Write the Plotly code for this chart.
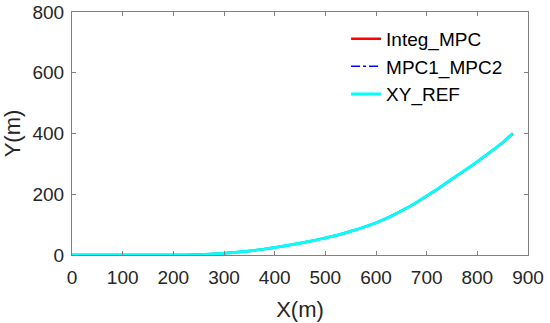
import plotly.graph_objects as go

# Trajectory data
x_vals = [0, 50, 100, 150, 200, 225, 250, 275, 300, 325, 350, 375, 400, 425, 450, 475, 500,
          525, 550, 575, 600, 625, 650, 675, 700, 725, 750, 775, 800, 825, 850, 870]
y_ref = [0, 0, 0, 0, 0, 0.3, 1, 3, 5.5, 9, 13, 18.5, 25, 31.5, 39, 47, 56,
         66, 78, 91, 106, 124, 145, 168, 194, 221, 250, 278, 307, 338, 370, 400]
y_integ = list(y_ref)
y_mpc12 = list(y_ref)

series_names = ["Integ_MPC", "MPC1_MPC2", "XY_REF"]
x_ticks = [0, 100, 200, 300, 400, 500, 600, 700, 800, 900]
y_ticks = [0, 200, 400, 600, 800]

FONT = "Liberation Sans, Arial, sans-serif"
TXT = "#262626"
AX = "#808080"

fig = go.Figure()
fig.add_trace(go.Scatter(x=x_vals, y=y_integ, mode="lines", name=series_names[0],
                         line=dict(color="#FF0000", width=2.5, shape="spline", smoothing=0.6),
                         cliponaxis=False))
fig.add_trace(go.Scatter(x=x_vals, y=y_mpc12, mode="lines", name=series_names[1],
                         line=dict(color="#0000FF", width=1.5, dash="dashdot", shape="spline", smoothing=0.6),
                         cliponaxis=False))
fig.add_trace(go.Scatter(x=x_vals, y=y_ref, mode="lines", name=series_names[2],
                         line=dict(color="#00FFFF", width=3, shape="spline", smoothing=0.6),
                         cliponaxis=False))

axis_common = dict(
    showgrid=False, zeroline=False, showline=True, linecolor=AX, linewidth=1,
    mirror="allticks", ticks="inside", ticklen=4, tickcolor=AX, tickwidth=1,
    tickfont=dict(family=FONT, size=19, color=TXT), automargin=False,
)

fig.update_layout(
    width=550, height=323,
    margin=dict(l=72, r=22, t=12, b=68),
    paper_bgcolor="white", plot_bgcolor="white",
    showlegend=True,
    legend=dict(x=0.601, y=0.968, xanchor="left", yanchor="top",
                bgcolor="rgba(0,0,0,0)", borderwidth=0,
                font=dict(family=FONT, size=19, color="#000000")),
    xaxis=dict(range=[0, 900], tickvals=x_ticks, ticktext=[str(v) for v in x_ticks],
               ticklabelstandoff=5,
               title=dict(text="X(m)", font=dict(family=FONT, size=22, color=TXT), standoff=14),
               **axis_common),
    yaxis=dict(range=[0, 800], tickvals=y_ticks, ticktext=[str(v) for v in y_ticks],
               ticklabelstandoff=3,
               title=dict(text="Y(m)", font=dict(family=FONT, size=22, color=TXT), standoff=7),
               **axis_common),
)

# remove the default page margin so the 550x323 figure fills the window exactly
fig.write_html("out.html",
               config={"displayModeBar": False},
               post_script="document.body.style.margin='0';document.body.style.overflow='hidden';")
